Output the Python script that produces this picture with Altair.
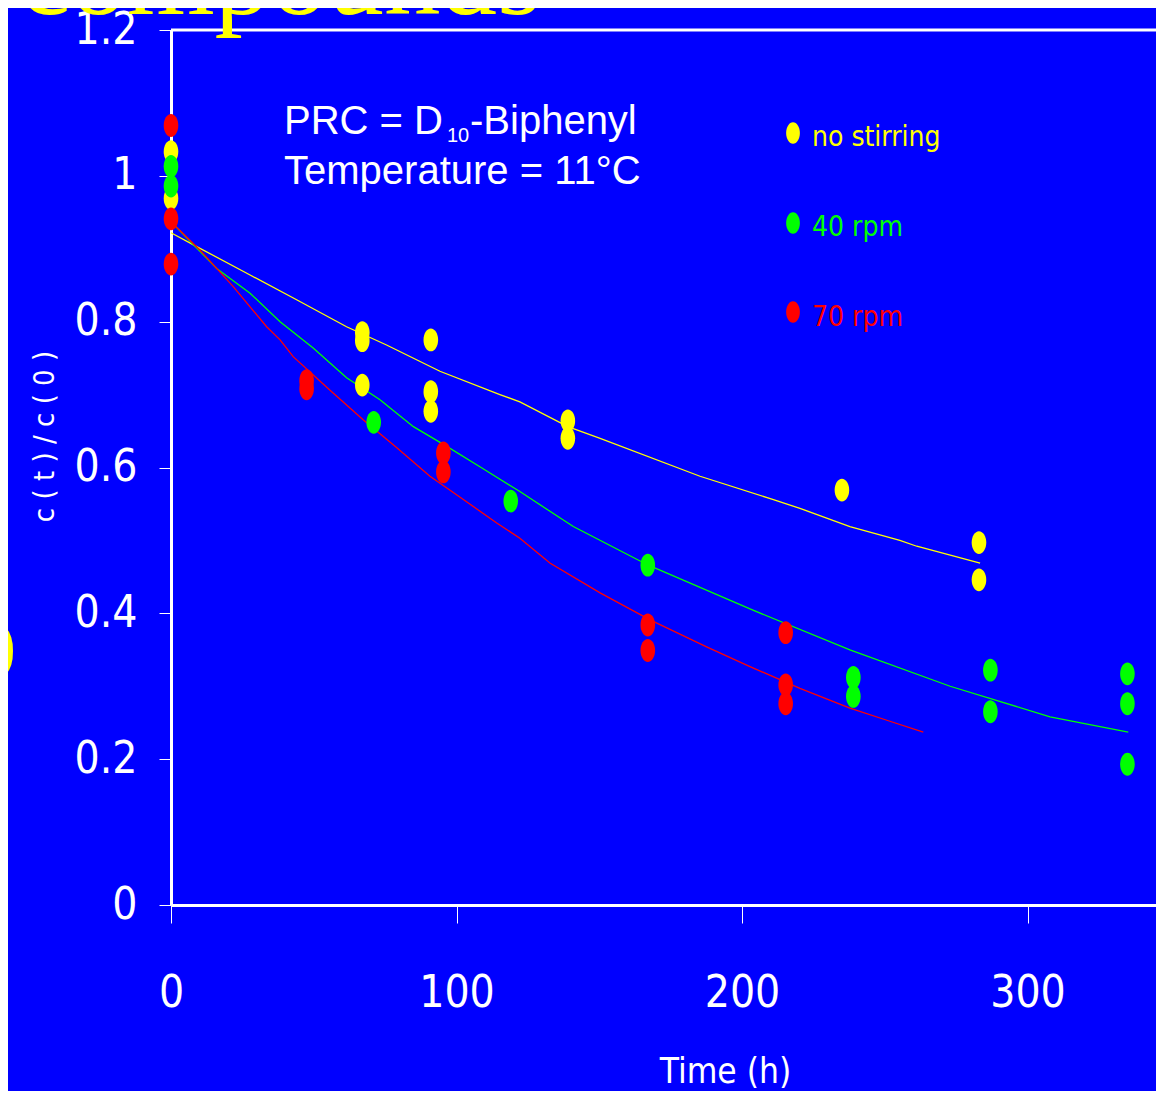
import altair as alt
import pandas as pd

# ---------------- data ----------------
series_names = ["no stirring", "40 rpm", "70 rpm"]
series_colors = ["#ffff00", "#00ff00", "#ff0000"]

# measured points
ns_t = [0, 0, 67, 67, 67, 91, 91, 91, 139, 139, 235, 283, 283]
ns_v = [1.033, 0.969, 0.785, 0.774, 0.713, 0.775, 0.704, 0.677, 0.664, 0.640, 0.569, 0.497, 0.446]

r40_t = [0, 0, 71, 119, 167, 239, 239, 287, 287, 335, 335, 335]
r40_v = [1.013, 0.986, 0.662, 0.554, 0.466, 0.312, 0.286, 0.322, 0.265, 0.317, 0.276, 0.193]

r70_t = [0, 0, 0, 47.5, 47.5, 95.4, 95.4, 167, 167, 215.3, 215.3, 215.3]
r70_v = [1.069, 0.941, 0.879, 0.719, 0.708, 0.620, 0.594, 0.384, 0.349, 0.3735, 0.302, 0.276]

# fitted model curves
ns_fit_t = [0, 9, 27.7, 44, 61.5, 75.5, 94.2, 115.2, 122.2, 139, 150.3, 185.3, 211, 220.3, 237.8, 255.3, 261.2, 283.4]
ns_fit_v = [0.922, 0.903, 0.864, 0.830, 0.793, 0.768, 0.732, 0.700, 0.690, 0.656, 0.640, 0.588, 0.556, 0.544, 0.519, 0.500, 0.492, 0.469]

r40_fit_t = [0, 16, 27.7, 38.2, 49.8, 61.5, 73.2, 84.9, 96.6, 108.2, 122.2, 140.9, 167.2, 202.8, 237.8, 272.9, 307.9, 335.3]
r40_fit_v = [0.937, 0.873, 0.839, 0.800, 0.764, 0.723, 0.693, 0.656, 0.629, 0.601, 0.567, 0.519, 0.466, 0.406, 0.350, 0.300, 0.258, 0.237]

r70_fit_t = [0, 10.2, 21.8, 33.5, 38.2, 42.8, 55.7, 67.4, 79.1, 90.7, 102.4, 114.1, 122.2, 132.7, 150.3, 167.8, 187.6, 202.8, 220.3, 237.8, 251.8, 263.5]
r70_fit_v = [0.937, 0.898, 0.848, 0.793, 0.775, 0.752, 0.706, 0.665, 0.627, 0.588, 0.556, 0.524, 0.503, 0.469, 0.428, 0.391, 0.354, 0.327, 0.297, 0.270, 0.252, 0.237]

x_ticks = [0, 100, 200, 300]
y_ticks = [0, 0.2, 0.4, 0.6, 0.8, 1.0, 1.2]

# ---------------- tables ----------------
pts = pd.concat([
    pd.DataFrame({"t": ns_t, "v": ns_v, "series": series_names[0]}),
    pd.DataFrame({"t": r40_t, "v": r40_v, "series": series_names[1]}),
    pd.DataFrame({"t": r70_t, "v": r70_v, "series": series_names[2]}),
])
fits = pd.concat([
    pd.DataFrame({"t": ns_fit_t, "v": ns_fit_v, "series": series_names[0]}),
    pd.DataFrame({"t": r40_fit_t, "v": r40_fit_v, "series": series_names[1]}),
    pd.DataFrame({"t": r70_fit_t, "v": r70_fit_v, "series": series_names[2]}),
])

# ---------------- layout ----------------
W, H = 985, 875
PX_PER_H = 2.855
X_MAX = W / PX_PER_H
NARROW = "Liberation Sans Narrow, DejaVu Sans Condensed, Arial Narrow, sans-serif"
SANS = "Liberation Sans, Arial, sans-serif"
SERIF = "Liberation Serif, Times New Roman, serif"
ELLIPSE = ("M 0 -1 C 0.3535 -1 0.64 -0.5523 0.64 0 C 0.64 0.5523 0.3535 1 0 1 "
           "C -0.3535 1 -0.64 0.5523 -0.64 0 C -0.64 -0.5523 -0.3535 -1 0 -1 Z")

color = alt.Color("series:N", scale=alt.Scale(domain=series_names, range=series_colors), legend=None)

x_enc = alt.X("t:Q", scale=alt.Scale(domain=[0, X_MAX], nice=False, zero=False),
              axis=alt.Axis(values=x_ticks, title="Time (h)", tickSize=18, labelPadding=70,
                            labelBaseline="middle", labelFontSize=44, labelFont=NARROW,
                            labelFlush=False, labelOverlap=False,
                            titleFont=NARROW, titleFontSize=35, titleFontWeight="normal",
                            titleX=554, titleY=177, titleBaseline="alphabetic", titleAlign="center"))
y_enc = alt.Y("v:Q", scale=alt.Scale(domain=[0, 1.2], nice=False),
              axis=alt.Axis(values=y_ticks, title="c ( t ) / c ( 0 )", tickSize=12, labelPadding=22,
                            labelFontSize=44, labelFont=NARROW, labelFlush=False, labelOverlap=False,
                            labelExpr="format(datum.value, '~g')",
                            titleFont=NARROW, titleFontSize=29, titleFontWeight="normal",
                            titleX=-127, titleY=406, titleAngle=270, titleAlign="center",
                            titleBaseline="middle"))

lines = alt.Chart(fits).mark_line(strokeWidth=1.3).encode(
    x=x_enc, y=y_enc, color=color, detail="series:N", order="t:Q")

points = alt.Chart(pts).mark_point(shape=ELLIPSE, filled=True, opacity=1, size=520).encode(
    x="t:Q", y="v:Q", color=color)

one = alt.Data(values=[{}])
layers = [lines, points]

# top frame line
layers.append(alt.Chart(one).mark_rule(color="white", strokeWidth=3).encode(
    x=alt.value(0), x2=alt.value(W), y=alt.value(0)))

# legend (manual, coloured labels)
leg_dot_y = [103, 193, 282]
leg_txt_y = [116, 206, 296]
for name, col, dy, ty in zip(series_names, series_colors, leg_dot_y, leg_txt_y):
    layers.append(alt.Chart(one).mark_point(shape=ELLIPSE, filled=True, opacity=1, size=460, color=col)
                  .encode(x=alt.value(622), y=alt.value(dy)))
    layers.append(alt.Chart(one).mark_text(text=name, color=col, font=NARROW, fontSize=28,
                                           align="left", baseline="alphabetic")
                  .encode(x=alt.value(641), y=alt.value(ty)))

# annotation
def txt(s, x, y, size, font=SANS, col="white", align="left"):
    return alt.Chart(one).mark_text(text=s, color=col, font=font, fontSize=size, align=align,
                                    baseline="alphabetic").encode(x=alt.value(x), y=alt.value(y))

layers += [
    txt("PRC = D", 113, 104, 40),
    txt("10", 276, 112, 20),
    txt("-Biphenyl", 299, 104, 40),
    txt("Temperature = 11°C", 113, 154, 40),
    # slide fragments around the chart
    txt("compounds", -151, -16, 113, font=SERIF, col="#ffff00"),
    txt(")", -155, 638, 70, font=SERIF, col="#ffff00", align="right"),
]

chart = alt.layer(*layers).properties(
    width=W, height=H,
    autosize=alt.AutoSizeParams(type="none"),
    padding={"left": 163, "top": 22, "right": 0, "bottom": 186},
    background="#0000ff",
).configure_view(stroke=None).configure_axis(
    domainColor="white", domainWidth=3, tickColor="white", tickWidth=1,
    labelColor="white", titleColor="white", grid=False,
)

chart.save("out.html", embed_options={"renderer": "svg", "actions": False})
